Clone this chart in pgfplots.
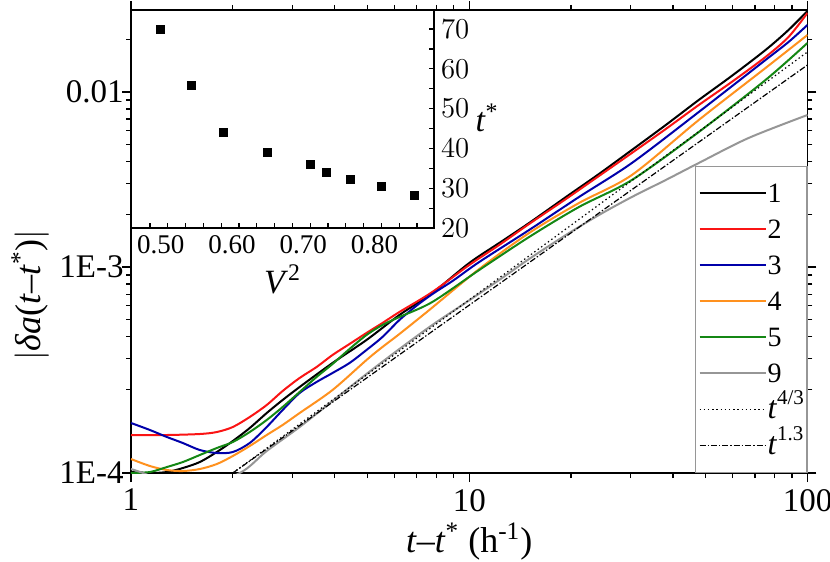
\documentclass[border=0pt]{standalone}
\usepackage{fontspec}
\setmainfont{Liberation Serif}
\usepackage{pgfplots}
\pgfplotsset{compat=1.18}
\definecolor{cblue}{RGB}{0,0,170}
\definecolor{cred}{RGB}{250,20,20}
\definecolor{corange}{RGB}{255,145,30}
\definecolor{cgreen}{RGB}{20,135,20}
\definecolor{cgray}{RGB}{150,150,150}
\begin{document}
\begin{tikzpicture}
\useasboundingbox (0,0) rectangle (415pt,281pt);
\begin{axis}[
  at={(65.5pt,44.5pt)}, anchor=south west,
  scale only axis, width=338.25pt, height=231.5pt,
  xmode=log, ymode=log,
  xmin=1, xmax=100, ymin=6.651e-5, ymax=2.94e-2,
  xtick={1,10,100}, xticklabels={1,10,100},
  minor xtick={2,3,4,5,6,7,8,9,20,30,40,50,60,70,80,90},
  ytick={1e-3,1e-2}, yticklabels={1E-3,0.01},
  minor ytick={2e-4,3e-4,4e-4,5e-4,6e-4,7e-4,8e-4,9e-4,2e-3,3e-3,4e-3,5e-3,6e-3,7e-3,8e-3,9e-3,2e-2},
  extra y ticks={6.651e-5}, extra y tick labels={1E-4},
  tick align=outside,
  major tick length=4.5pt, minor tick length=2.5pt,
  axis line style={line width=0.8pt},
  every tick/.style={black, line width=0.6pt},
  ticklabel style={font=\fontsize{16.5}{16.5}\selectfont},
  yticklabel style={inner xsep=1pt, xshift=2pt},
  label style={font=\fontsize{18}{18}\selectfont},
  xlabel={\textit{t}–\textit{t}\textsuperscript{*} (h\textsuperscript{-1})},
  xlabel style={at={(axis description cs:0.5,-0.148)}, anchor=center},
  ylabel={$\Bigl|$\textit{δa}(\textit{t}–\textit{t}\textsuperscript{*})$\Bigr|$},
  ylabel style={at={(axis description cs:-0.149,0.384)}, anchor=center, rotate=0},
  legend style={at={(1,0)}, anchor=south east, draw=cgray, line width=0.6pt, fill=white,
    font=\fontsize{14}{14}\selectfont, row sep=0pt, column sep=0.5pt,
    inner xsep=1.5pt, inner ysep=4.5pt,
    nodes={inner sep=0pt, text height=13.65pt, text depth=4.35pt}},
  legend cell align=left,
  legend image code/.code={\draw[#1] (0pt,0pt) -- (33pt,0pt);},
  no markers,
]
\addplot[black, line width=1pt, smooth] coordinates {
(1,0.06739e-3) (1.1378,0.06651e-3) (1.277,0.06739e-3) (1.4235,0.07102e-3) (1.5976,0.07685e-3)
(1.7936,0.08767e-3) (2.0,0.1013e-3) (2.244,0.1202e-3) (2.5188,0.1464e-3) (2.8076,0.1738e-3)
(3.1515,0.2062e-3) (3.943,0.2828e-3) (4.968,0.3827e-3) (6.217,0.5318e-3) (7.778,0.7103e-3)
(10,1.054e-3) (12.261,1.3712e-3) (15.031,1.7841e-3) (19.321,2.5119e-3) (24.181,3.4e-3)
(30.256,4.6628e-3) (38.123,6.4774e-3) (47.71,9.0036e-3) (59.69,12.344e-3) (75.17,17.378e-3)
(87.9,22.615e-3) (100,29.04e-3)};
\addlegendentry{1}
\addplot[cred, line width=1pt, smooth] coordinates {
(1,0.10965e-3) (1.277,0.10965e-3) (1.5976,0.1111e-3) (1.7936,0.11403e-3) (2.0,0.12182e-3)
(2.244,0.13894e-3) (2.5188,0.1627e-3) (2.8076,0.19562e-3) (3.1515,0.23217e-3) (3.5374,0.26827e-3)
(3.943,0.31418e-3) (4.426,0.36308e-3) (4.968,0.41975e-3) (5.5386,0.47863e-3) (6.217,0.55322e-3)
(7.778,0.71968e-3) (10,1.0266e-3) (12.261,1.3356e-3) (15.031,1.7608e-3) (19.321,2.4469e-3)
(24.181,3.3113e-3) (30.256,4.4814e-3) (38.123,6.1456e-3) (47.71,8.4275e-3) (59.69,11.405e-3)
(75.17,15.849e-3) (87.9,20.624e-3) (100,28.283e-3)};
\addlegendentry{2}
\addplot[cblue, line width=1pt, smooth] coordinates {
(1,0.12845e-3) (1.1378,0.11708e-3) (1.277,0.1068e-3) (1.4235,0.09869e-3) (1.5976,0.09e-3)
(1.7936,0.08652e-3) (2.0,0.08767e-3) (2.244,0.09869e-3) (2.5188,0.12182e-3) (2.8076,0.15234e-3)
(3.1515,0.19055e-3) (3.5374,0.22029e-3) (3.943,0.24791e-3) (4.426,0.28275e-3) (4.968,0.33552e-3)
(5.5386,0.39811e-3) (6.217,0.49785e-3) (6.9783,0.60e-3) (7.778,0.70e-3) (8.99,0.84e-3) (10.703,1.068e-3)
(15.031,1.627e-3) (21.111,2.5119e-3) (30.256,3.9293e-3) (47.71,7.6858e-3) (75.17,15.237e-3)
(87.9,19.307e-3) (100,24.15e-3)};
\addlegendentry{3}
\addplot[corange, line width=1pt, smooth] coordinates {
(1,0.07995e-3) (1.1378,0.07291e-3) (1.277,0.06918e-3) (1.4235,0.06828e-3) (1.5976,0.07009e-3)
(1.7936,0.07485e-3) (2.0,0.08318e-3) (2.244,0.09487e-3) (2.5188,0.10965e-3) (2.8076,0.12511e-3)
(3.1515,0.1464e-3) (3.943,0.19821e-3) (4.968,0.2941e-3) (5.5386,0.34903e-3) (6.217,0.4141e-3)
(7.6208,0.56793e-3) (10.703,0.97402e-3) (15.031,1.5643e-3) (21.111,2.3213e-3) (30.256,3.355e-3)
(47.71,6.9183e-3) (75.17,13.712e-3) (100,21.172e-3)};
\addlegendentry{4}
\addplot[cgreen, line width=1pt, smooth] coordinates {
(1,0.06651e-3) (1.1378,0.06739e-3) (1.277,0.07196e-3) (1.4235,0.07685e-3) (1.5976,0.08428e-3)
(1.7936,0.09241e-3) (2.0,0.1e-3) (2.244,0.11403e-3) (2.5188,0.13357e-3) (2.8076,0.15849e-3)
(3.1515,0.19307e-3) (3.5374,0.23524e-3) (3.943,0.27905e-3) (4.426,0.33997e-3) (4.968,0.40871e-3)
(5.5386,0.46633e-3) (6.217,0.51795e-3) (7.778,0.63096e-3) (10.703,0.96132e-3) (15.031,1.4837e-3)
(21.111,2.2029e-3) (30.256,3.1418e-3) (47.71,5.9067e-3) (75.17,11.712e-3) (100,19.055e-3)};
\addlegendentry{5}
\addplot[cgray, line width=1pt, smooth] coordinates {
(1,0.07009e-3) (1.0849,0.06651e-3) (1.493,0.05316e-3) (2.0966,0.06651e-3) (2.5188,0.08884e-3)
(3.1515,0.12182e-3) (3.943,0.1715e-3) (4.968,0.24465e-3) (6.217,0.33997e-3) (7.778,0.46633e-3)
(9.7321,0.62267e-3) (12.261,0.8427e-3) (15.031,1.111e-3) (19.321,1.5235e-3) (24.181,1.9825e-3)
(30.256,2.5119e-3) (38.123,3.1418e-3) (47.71,3.9293e-3) (66.988,5.46e-3) (100,7.3878e-3)};
\addlegendentry{9}
\addplot[black, line width=0.6pt, dash pattern=on 0.7pt off 1.4pt] coordinates {(2,6.651e-5) (100,16.929e-3)};
\addlegendentry{{\fontsize{16}{16}\selectfont\textit{t}}\raisebox{7pt}{\fontsize{10.5}{10.5}\selectfont 4/3}}
\addplot[black, line width=0.6pt, dash pattern=on 3pt off 1pt on 0.7pt off 1pt] coordinates {(2,6.651e-5) (100,14.265e-3)};
\addlegendentry{{\fontsize{16}{16}\selectfont\textit{t}}\raisebox{7pt}{\fontsize{10.5}{10.5}\selectfont 1.3}}
\end{axis}
\begin{axis}[
  at={(65.5pt,167pt)}, anchor=south west,
  scale only axis, width=151.5pt, height=109pt,
  xmin=0.4483, xmax=0.8739, ymin=20, ymax=74.8,
  axis background/.style={fill=white},
  xtick={0.5,0.6,0.7,0.8}, xticklabels={0.50,0.60,0.70,0.80},
  minor xtick={0.475,0.525,0.55,0.575,0.625,0.65,0.675,0.725,0.75,0.775,0.825,0.85},
  ytick={20,30,40,50,60,70},
  minor ytick={25,35,45,55,65},
  xtick pos=left, ytick pos=right, yticklabel pos=right,
  tick align=inside,
  major tick length=2.5pt, minor tick length=2.5pt,
  axis line style={line width=0.7pt},
  every tick/.style={black, line width=0.6pt},
  ticklabel style={font=\fontsize{13.5}{13.5}\selectfont},
  xticklabel style={xshift=-3.5pt},
  label style={font=\fontsize{17}{17}\selectfont},
  xlabel={\textit{V}\textsuperscript{2}},
  xlabel style={at={(axis description cs:0.5,-0.235)}, anchor=center},
  ylabel={\textit{t}\textsuperscript{*}},
  ylabel style={at={(axis description cs:1.175,0.505)}, anchor=center, rotate=-90},
]
\addplot[only marks, mark=square*, mark size=2pt, black] coordinates {
(0.49,70.0) (0.5329,55.8) (0.5776,44.0) (0.64,39.0) (0.70,36.0) (0.7225,34.0) (0.7569,32.1) (0.80,30.4) (0.8464,28.1)};
\end{axis}
\end{tikzpicture}
\end{document}
